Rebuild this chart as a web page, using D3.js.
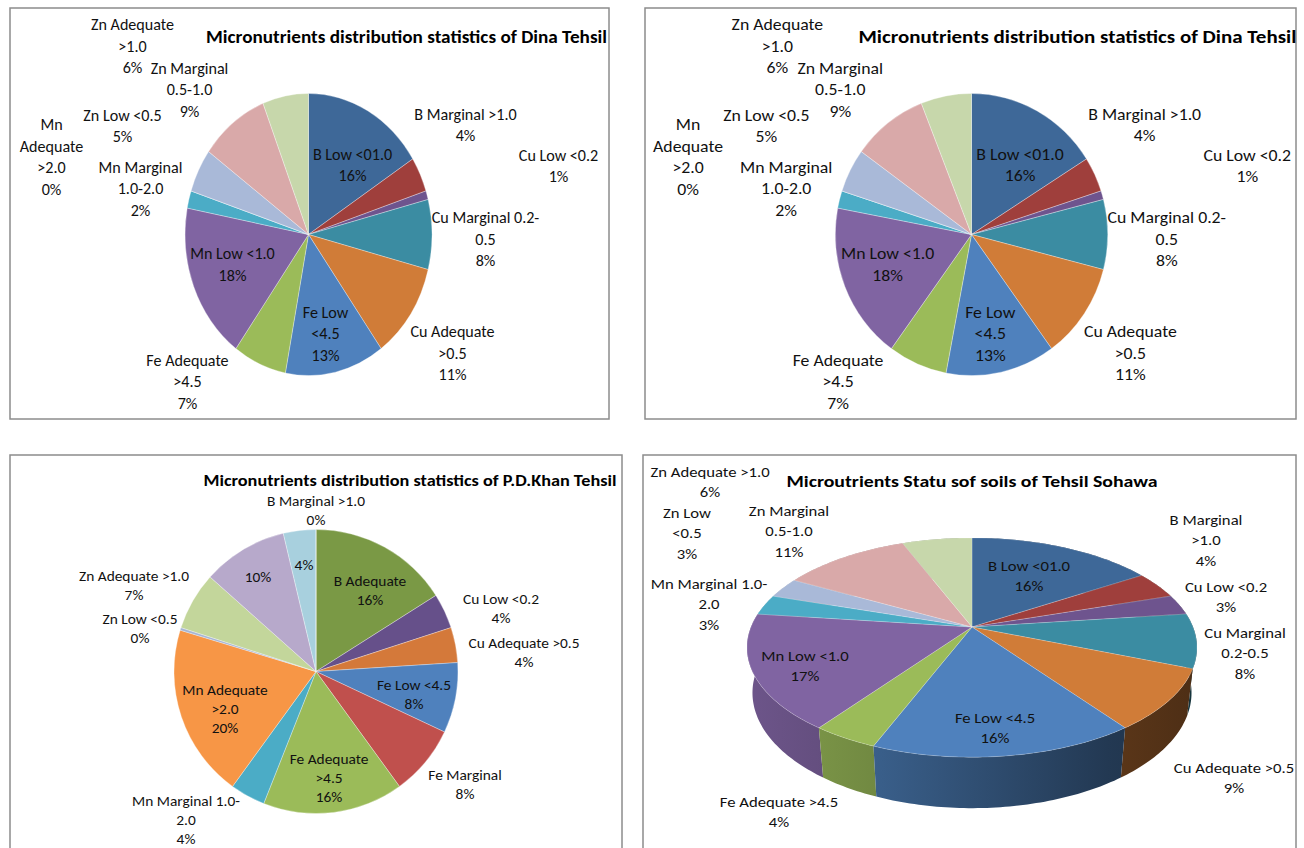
<!DOCTYPE html>
<html>
<head>
<meta charset="utf-8">
<script src="https://cdn.jsdelivr.net/npm/d3@7"></script>
<style>
html, body { margin: 0; padding: 0; background: #fff; }
svg { display: block; font-family: Carlito, Calibri, Lato, sans-serif; }
</style>
</head>
<body>
<svg id="chart" width="1304" height="848"></svg>
<script>
// ---- data: Dina Tehsil (drawn twice, top row)
var dinaTitle = "Micronutrients distribution statistics of Dina Tehsil";
var dinaCategories = ["B Low <01.0", "B Marginal >1.0", "Cu Low <0.2", "Cu Marginal 0.2-0.5", "Cu Adequate >0.5",
	"Fe Low <4.5", "Fe Adequate >4.5", "Mn Low <1.0", "Mn Marginal 1.0-2.0", "Mn Adequate >2.0",
	"Zn Low <0.5", "Zn Marginal 0.5-1.0", "Zn Adequate >1.0"];
var dinaValues = [16, 4, 1, 8, 11, 13, 7, 18, 2, 0, 5, 9, 6];
var dinaLabelLines = [["B Low <01.0"], ["B Marginal >1.0"], ["Cu Low <0.2"], ["Cu Marginal 0.2-", "0.5"], ["Cu Adequate", ">0.5"],
	["Fe Low", "<4.5"], ["Fe Adequate", ">4.5"], ["Mn Low <1.0"], ["Mn Marginal", "1.0-2.0"], ["Mn", "Adequate", ">2.0"],
	["Zn Low <0.5"], ["Zn Marginal", "0.5-1.0"], ["Zn Adequate", ">1.0"]];

// ---- data: P.D.Khan Tehsil
var pdkTitle = "Micronutrients distribution statistics of P.D.Khan  Tehsil";
var pdkCategories = ["B Adequate", "Cu Low <0.2", "Cu Adequate >0.5", "Fe Low <4.5", "Fe Marginal", "Fe Adequate >4.5",
	"Mn Marginal 1.0-2.0", "Mn Adequate >2.0", "Zn Low <0.5", "Zn Adequate >1.0", "Zn Marginal", "B Low", "B Marginal >1.0"];
var pdkValues = [16, 4, 4, 8, 8, 16, 4, 19.7, 0.3, 6.6, 9.7, 3.7, 0];
var pdkLabelLines = [["B Adequate"], ["Cu Low <0.2"], ["Cu Adequate >0.5"], ["Fe Low <4.5"], ["Fe Marginal"], ["Fe Adequate", ">4.5"],
	["Mn Marginal 1.0-", "2.0"], ["Mn Adequate", ">2.0"], ["Zn Low <0.5"], ["Zn Adequate >1.0"], [], [], ["B Marginal >1.0"]];

// ---- data: Sohawa Tehsil (3D pie)
var sohTitle = "Microutrients Statu sof soils of Tehsil Sohawa";
var sohCategories = ["B Low <01.0", "B Marginal >1.0", "Cu Low <0.2", "Cu Marginal 0.2-0.5", "Cu Adequate >0.5",
	"Fe Low <4.5", "Fe Adequate >4.5", "Mn Low <1.0", "Mn Marginal 1.0-2.0", "Zn Low <0.5", "Zn Marginal 0.5-1.0", "Zn Adequate >1.0"];
var sohValues = [16, 4, 3, 8, 9, 16, 4, 17, 3, 3, 11, 6];
var sohLabelLines = [["B Low <01.0"], ["B Marginal", ">1.0"], ["Cu Low <0.2"], ["Cu Marginal", "0.2-0.5"], ["Cu Adequate >0.5"],
	["Fe Low <4.5"], ["Fe Adequate >4.5"], ["Mn Low <1.0"], ["Mn Marginal 1.0-", "2.0"], ["Zn Low", "<0.5"],
	["Zn Marginal", "0.5-1.0"], ["Zn Adequate >1.0"]];

// ---- colours
var dinaColors = ["#3e6898", "#9f3f3c", "#6e548e", "#3b8ca2", "#d07c38", "#4f81bd", "#9bbb59", "#8064a2",
	"#4bacc6", "#f79646", "#a9b9d8", "#d9a9a9", "#c7d7ab"];
var pdkColors = ["#7a9945", "#66508a", "#d4793a", "#4f81bd", "#c0504d", "#9bbb59", "#4bacc6", "#f79646",
	"#a6b5d4", "#c3d69b", "#b7a9cb", "#a8d0de", "#4f81bd"];
var sohColors = ["#3e6898", "#9f3f3c", "#6e548e", "#3b8ca2", "#d07c38", "#4f81bd", "#9bbb59", "#8064a2",
	"#4bacc6", "#a9b9d8", "#d9a9a9", "#c7d7ab"];

// ---- label placement (offset of each label block from the pie centre)
var dinaLabelPos = [[44, -61], [157, -96], [250, -60], [177, 4], [144, 104], [17, 87], [-121, 129],
	[-76, 26], [-168, -40], [-257, -68], [-186, -95], [-119, -127], [-176, -165]];
var pdkLabelPos = [[54, -81], [185, -63], [208, -19], [98, 23], [149, 113], [13, 107], [-130, 149],
	[-91, 38], [-176, -43], [-182, -86], [-58, -94], [-12, -106], [0, -161]];
var sohLabelPos = [[57, -51], [234, -87], [254, -30], [273, 26], [262, 151], [23, 101], [-193, 185],
	[-167, 39], [-263, -23], [-285, -94], [-183, -96], [-262, -145]];

var svg = d3.select("#chart");
var pct = d3.format(".0%");

function frame(x, y, w, h) {
	svg.append("rect")
		.attr("x", x).attr("y", y).attr("width", w).attr("height", h)
		.attr("fill", "none").attr("stroke", "#8c8c8c").attr("stroke-width", 1.5);
}

// Lato is narrower than the Calibri of the original, so widen it a bit
function textBlock(g, x, y, lines, size, lh, hs) {
	var t = g.append("text")
		.attr("transform", "translate(" + x + "," + y + ") scale(" + hs + ",1)")
		.attr("text-anchor", "middle")
		.attr("font-size", size)
		.attr("fill", "#111");
	var y0 = -(lines.length - 1) / 2 * lh;
	lines.forEach(function(l, i) {
		t.append("tspan").attr("x", 0).attr("y", y0 + i * lh).attr("dy", "0.35em").text(l);
	});
}

function title(g, x, y, txt, size, len) {
	g.append("text")
		.attr("x", x).attr("y", y).attr("dy", "0.35em")
		.attr("text-anchor", "middle")
		.attr("font-weight", "bold")
		.attr("font-size", size)
		.attr("textLength", len)
		.attr("lengthAdjust", "spacingAndGlyphs")
		.attr("fill", "#000")
		.text(txt);
}

// flat pie, the picture was stretched so the group is scaled
function flatPie(o) {
	var g = svg.append("g")
		.attr("transform", "translate(" + o.cx + "," + o.cy + ") scale(" + o.sx + "," + o.sy + ")");
	var total = d3.sum(o.values);
	var arcs = d3.pie().sort(null).value(function(d) { return d; })(o.values);
	var arc = d3.arc().innerRadius(0).outerRadius(o.r);

	g.selectAll("path.slice").data(arcs).join("path")
		.attr("class", "slice")
		.attr("d", arc)
		.attr("fill", function(d, i) { return o.colors[i]; })
		.attr("stroke", "#fff")
		.attr("stroke-opacity", 0.45)
		.attr("stroke-width", 0.7)
		.attr("vector-effect", "non-scaling-stroke");

	arcs.forEach(function(d, i) {
		var lines = o.lines[i].concat(pct(d.value / total));
		textBlock(g, o.pos[i][0], o.pos[i][1], lines, o.fontSize, o.lineHeight, o.textScale);
	});
	title(g, o.titlePos[0], o.titlePos[1], o.title, o.titleSize, o.titleLen);
}

// 3D pie with a simple perspective camera
function pie3d(o) {
	var defs = svg.append("defs");
	var g = svg.append("g").attr("transform", "translate(" + o.cx + "," + o.cy + ")");
	var total = d3.sum(o.values);
	var arcs = d3.pie().sort(null).value(function(d) { return d; })(o.values);
	var s = Math.sin(o.phi), c = Math.cos(o.phi);

	function project(theta, y) {
		var x = Math.sin(theta), z = -Math.cos(theta);
		var depth = o.dist - y * s - z * c;
		return [o.focal * x / depth, o.focal * (z * s - y * c) / depth];
	}
	function rim(a0, a1, y) {
		var n = Math.max(2, Math.ceil((a1 - a0) / (Math.PI / 180)));
		return d3.range(n + 1).map(function(k) { return project(a0 + (a1 - a0) * k / n, y); });
	}

	// side walls, far ones first
	var sides = arcs.map(function(d, i) { return { d: d, i: i }; })
		.filter(function(e) { return e.d.endAngle > e.d.startAngle; })
		.sort(function(a, b) {
			return Math.cos((b.d.startAngle + b.d.endAngle) / 2) - Math.cos((a.d.startAngle + a.d.endAngle) / 2);
		});

	sides.forEach(function(e) {
		var col = o.colors[e.i];
		var grad = defs.append("linearGradient")
			.attr("id", "side" + e.i)
			.attr("gradientUnits", "userSpaceOnUse")
			.attr("x1", -o.halfWidth).attr("x2", o.halfWidth)
			.attr("y1", 0).attr("y2", 0);
		[[0, 0.45], [0.3, 0.9], [0.8, 2.3], [1, 2.8]].forEach(function(st) {
			grad.append("stop").attr("offset", st[0]).attr("stop-color", d3.color(col).darker(st[1]).formatHex());
		});
		var top = rim(e.d.startAngle, e.d.endAngle, 0);
		var bot = rim(e.d.startAngle, e.d.endAngle, -o.thick).reverse();
		g.append("path")
			.attr("d", d3.line()(top.concat(bot)) + "Z")
			.attr("fill", "url(#side" + e.i + ")")
			.attr("stroke", "none");
	});

	// top faces
	g.selectAll("path.top").data(arcs).join("path")
		.attr("class", "top")
		.attr("d", function(d) {
			if(d.endAngle <= d.startAngle) return null;
			return d3.line()([[0, 0]].concat(rim(d.startAngle, d.endAngle, 0))) + "Z";
		})
		.attr("fill", function(d, i) { return o.colors[i]; })
		.attr("stroke", "#fff")
		.attr("stroke-opacity", 0.35)
		.attr("stroke-width", 0.6);

	arcs.forEach(function(d, i) {
		var lines = o.lines[i].concat(pct(d.value / total));
		textBlock(g, o.pos[i][0], o.pos[i][1], lines, o.fontSize, o.lineHeight, o.textScale);
	});
	title(g, o.titlePos[0], o.titlePos[1], o.title, o.titleSize, o.titleLen);
}

// frames
frame(10, 8, 599, 411);
frame(645, 8, 651, 411);
frame(10, 455, 612, 420);
frame(643, 455, 653, 420);

// top left
flatPie({ cx: 308.5, cy: 234.5, sx: 1, sy: 1.142, r: 123.5,
	values: dinaValues, colors: dinaColors, lines: dinaLabelLines, pos: dinaLabelPos,
	fontSize: 14, lineHeight: 18.8, textScale: 1.15,
	title: dinaTitle, titlePos: [98, -173], titleSize: 15, titleLen: 401 });

// top right, same data, wider frame
flatPie({ cx: 971.5, cy: 234.5, sx: 1.103, sy: 1.142, r: 123.5,
	values: dinaValues, colors: dinaColors, lines: dinaLabelLines, pos: dinaLabelPos,
	fontSize: 14, lineHeight: 18.8, textScale: 1.15,
	title: dinaTitle, titlePos: [96, -173], titleSize: 15, titleLen: 397 });

// bottom left
flatPie({ cx: 316, cy: 671.5, sx: 1, sy: 1, r: 142,
	values: pdkValues, colors: pdkColors, lines: pdkLabelLines, pos: pdkLabelPos,
	fontSize: 14, lineHeight: 19, textScale: 1.1,
	title: pdkTitle, titlePos: [94, -191], titleSize: 15, titleLen: 413 });

// bottom right
pie3d({ cx: 972, cy: 627, phi: 28.6 * Math.PI / 180, dist: 4.69, focal: 1036.6, thick: 0.236, halfWidth: 225,
	values: sohValues, colors: sohColors, lines: sohLabelLines, pos: sohLabelPos,
	fontSize: 14.5, lineHeight: 20.5, textScale: 1.15,
	title: sohTitle, titlePos: [0, -146], titleSize: 16, titleLen: 371 });
</script>
</body>
</html>
